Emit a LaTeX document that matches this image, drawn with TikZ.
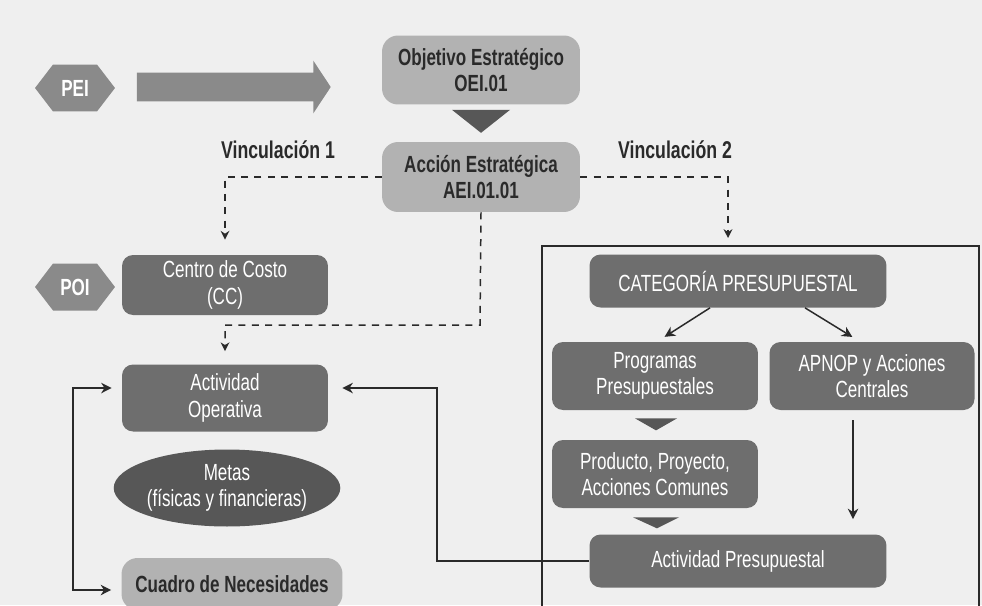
\documentclass[tikz,border=0pt]{standalone}
\usepackage{fontspec}
\setmainfont{Liberation Sans}[FakeStretch=0.73]
\usetikzlibrary{arrows.meta,positioning,calc,shapes.symbols,shapes.arrows,shapes.geometric}
\definecolor{paper}{HTML}{EFEFEF}
\definecolor{boxdark}{HTML}{6E6E6E}
\definecolor{boxlight}{HTML}{B2B2B2}
\definecolor{hexgray}{HTML}{8A8A8A}
\definecolor{ovaldark}{HTML}{575757}
\definecolor{inkdark}{HTML}{2A2A2A}
\newcommand{\boxfont}{\fontsize{13.3}{15}\selectfont}
\tikzset{
  darkbox/.style={fill=boxdark,rounded corners=0.22cm,text=white,align=center,inner sep=1pt,font=\boxfont},
  lightbox/.style={fill=boxlight,rounded corners=0.32cm,text=inkdark,align=center,inner sep=1pt,font=\boxfont\bfseries},
  hexbox/.style={shape=signal,signal to=west and east,signal pointer angle=105,fill=hexgray,text=white,inner sep=1pt,font=\boxfont\bfseries},
  linklabel/.style={text=inkdark,font=\fontsize{13.8}{15}\selectfont\bfseries},
  dashlink/.style={dashed,dash pattern=on 4pt off 3.6pt,line width=0.85pt,draw=inkdark,-{Stealth[length=5pt,width=5pt]}},
  solidlink/.style={line width=0.85pt,draw=inkdark,-{Stealth[length=6pt,width=6pt]}},
  downtri/.style={fill=ovaldark},
}
\begin{document}
\begin{tikzpicture}[x=0.02cm,y=-0.02cm]
\useasboundingbox (0,0) rectangle (982,605);
\clip (0,0) rectangle (982,605);
\fill[paper] (0,0) rectangle (982,605);

% PEI level
\node[hexbox,minimum width=1.6cm,minimum height=0.94cm] (pei) at (75,88) {PEI};
\node[single arrow,fill=hexgray,minimum height=3.88cm,inner sep=0.28cm,single arrow head extend=0.24cm,single arrow tip angle=113] (peiarrow) at (229,87) {};
\node[lightbox,minimum width=3.96cm,minimum height=1.38cm] (obj) at (481,70) {Objetivo Estratégico\\OEI.01};
\node[lightbox,minimum width=3.96cm,minimum height=1.4cm] (acc) at (481,177) {Acción Estratégica\\AEI.01.01};
\fill[downtri] ($(obj.south)+(-29,5)$) -- ($(obj.south)+(29,5)$) -- ($(obj.south)+(0,28)$) -- cycle;

\node[linklabel] (vinc1) at (278,150) {Vinculación 1};
\node[linklabel] (vinc2) at (675,150) {Vinculación 2};

% POI side
\node[hexbox,minimum width=1.6cm,minimum height=0.94cm] (poi) at (75,287) {POI};
\node[darkbox,minimum width=4.12cm,minimum height=1.2cm] (cc) at (225,285) {Centro de Costo\\(CC)};
\node[darkbox,minimum width=4.12cm,minimum height=1.34cm] (ao) at (225,398) {Actividad\\Operativa};
\node[ellipse,fill=ovaldark,text=white,inner sep=0pt,minimum width=3.66cm,minimum height=1.54cm,align=center,font=\boxfont] (metas) at (227,488) {Metas\\(físicas y financieras)};
\node[lightbox,minimum width=4.42cm,minimum height=1.04cm] (cn) at (232,584) {Cuadro de Necesidades};

% budget frame
\draw[line width=0.8pt,inkdark] (542,620) -- (542,246) -- (979,246) -- (979,620);
\node[darkbox,minimum width=5.94cm,minimum height=1.06cm] (cat) at (738,281) {CATEGORÍA PRESUPUESTAL};
\node[darkbox,minimum width=4.12cm,minimum height=1.36cm] (prog) at (655,376) {Programas\\Presupuestales};
\node[darkbox,minimum width=4.1cm,minimum height=1.36cm] (apnop) at (872,376) {APNOP y Acciones\\Centrales};
\node[darkbox,minimum width=4.12cm,minimum height=1.36cm] (prod) at (655,474) {Producto, Proyecto,\\Acciones Comunes};
\node[darkbox,minimum width=5.94cm,minimum height=1.06cm] (ap) at (738,561) {Actividad Presupuestal};
\fill[downtri] ($(prog.south)+(-20,8)$) -- ($(prog.south)+(22,8)$) -- ($(prog.south)+(1,20)$) -- cycle;
\fill[downtri] ($(prod.south)+(-22,9)$) -- ($(prod.south)+(24,9)$) -- ($(prod.south)+(2,20)$) -- cycle;

% links
\coordinate (v2top) at (728,246);
\coordinate (midturn) at (480,325);
\coordinate (loopa) at (73,388);
\coordinate (loopb) at (73,590);
\coordinate (back) at (437,388);
\draw[dashlink,shorten >=0.3cm] (acc.west) -| (cc.north);
\draw[dashlink,shorten >=0.16cm] (acc.east) -| (v2top);
\draw[dashlink,shorten >=0.26cm] (acc.south) -- (midturn) -| (ao.north);
\draw[solidlink,{Stealth[length=6pt,width=6pt]}-{Stealth[length=6pt,width=6pt]},shorten <=0.2cm,shorten >=0.2cm] (ao.west |- loopa) -- (loopa) -- (loopb) -- (cn.west |- loopb);
\draw[solidlink,shorten >=0.28cm] (ap.west) -| (back) -- (ao.east |- back);
\draw[solidlink,shorten >=0.18cm] ([xshift=-0.56cm]cat.south) -- ([xshift=0.04cm]prog.north);
\draw[solidlink,shorten >=0.18cm] ([xshift=1.34cm]cat.south) -- ([xshift=-0.24cm]apnop.north);
\draw[solidlink,shorten <=0.2cm,shorten >=0.3cm] ([xshift=-0.38cm]apnop.south) -- ([xshift=-0.38cm]apnop.south |- ap.north);
\end{tikzpicture}
\end{document}
